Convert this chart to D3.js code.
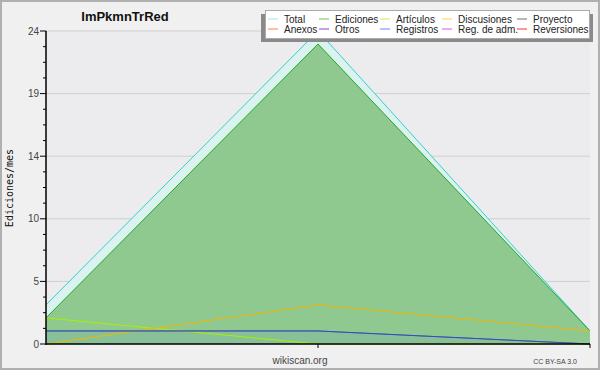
<!DOCTYPE html>
<html>
<head>
<meta charset="UTF-8">
<script src="https://d3js.org/d3.v7.min.js"></script>
<style>
  body { margin: 0; background: #f0f0f0; }
  text { font-family: "Liberation Sans", "DejaVu Sans", sans-serif; }
</style>
</head>
<body>
<svg id="chart"></svg>
<script>
// data (3 monthly points)
const months = [0, 1, 2];
const total = [3, 24, 1];
const ediciones = [2, 23, 1];
const articulos = [2, 0, 0];
const discusiones = [0, 3, 1];
const proyecto = [1, 1, 0];
const registros = [1, 1, 0];

const legendNames = ["Total", "Ediciones", "Artículos", "Discusiones", "Proyecto",
  "Anexos", "Otros", "Registros", "Reg. de adm.", "Reversiones"];
const legendColors = ["#a8e4e0", "#70c070", "#c8f050", "#ffd050", "#707070",
  "#ff8040", "#9040e0", "#7080ff", "#e050e0", "#ff3030"];

const W = 600, H = 370;
const mLeft = 46, mRight = 590, mTop = 31, mBottom = 344;

const svg = d3.select("#chart").attr("width", W).attr("height", H);

// background and frame
svg.append("rect").attr("x", 1).attr("y", 1).attr("width", W - 2).attr("height", H - 2)
  .attr("fill", "#f0f0f0").attr("stroke", "#b0b0b0").attr("stroke-width", 2);
svg.append("rect").attr("x", mLeft).attr("y", mTop).attr("width", mRight - mLeft).attr("height", mBottom - mTop)
  .attr("fill", "#ececee");

const x = d3.scaleLinear().domain([0, 2]).range([mLeft, mRight]);
const y = d3.scaleLinear().domain([0, 24]).range([mBottom, mTop]);

// grid lines at major ticks
const majors = d3.range(0, 5).map(i => 4.8 * (i + 1));
svg.append("g").selectAll("line").data(majors).join("line")
  .attr("x1", mLeft).attr("x2", mRight)
  .attr("y1", d => y(d)).attr("y2", d => y(d))
  .attr("stroke", "#cfcfcf").attr("stroke-width", 1);

// areas
const area = d3.area().x((d, i) => x(months[i])).y0(mBottom).y1(d => y(d));
const line = d3.line().x((d, i) => x(months[i])).y(d => y(d));

svg.append("path").attr("d", area(total)).attr("fill", "#dcf2ee");
svg.append("path").attr("d", area(ediciones)).attr("fill", "#90c990");
svg.append("path").attr("d", area(registros)).attr("fill", "#3060ff").attr("fill-opacity", 0.08);

// lines
const lines = [
  [total, "#30d0d0"],
  [ediciones, "#20a830"],
  [articulos, "#a8f000"],
  [discusiones, "#f0b800"],
  [proyecto, "#606060"],
  [registros, "#2040ff"]
];
lines.forEach(([vals, col], k) => {
  svg.append("path").attr("d", line(vals)).attr("fill", "none")
    .attr("stroke", col).attr("stroke-width", 1)
    .attr("stroke-opacity", k == 5 ? 0.7 : 1);
});

// y axis
const yTicks = d3.range(0, 21).map(i => i * 1.2);
svg.append("line").attr("x1", mLeft).attr("x2", mLeft).attr("y1", mTop).attr("y2", mBottom + 1)
  .attr("stroke", "#000").attr("stroke-width", 1.5);
svg.append("g").selectAll("line").data(yTicks).join("line")
  .attr("x1", (d, i) => i % 4 == 0 ? mLeft - 6 : mLeft - 3).attr("x2", mLeft)
  .attr("y1", d => y(d)).attr("y2", d => y(d))
  .attr("stroke", "#000").attr("stroke-width", 1);
svg.append("g").selectAll("text").data(yTicks.filter((d, i) => i % 4 == 0)).join("text")
  .attr("x", mLeft - 7).attr("y", d => y(d) + 3.5)
  .attr("text-anchor", "end").attr("font-size", 10).attr("fill", "#444")
  .text(d => Math.round(d));

// x axis
svg.append("line").attr("x1", mLeft).attr("x2", mRight).attr("y1", mBottom).attr("y2", mBottom)
  .attr("stroke", "#000").attr("stroke-width", 1.5);
svg.append("g").selectAll("line").data([1, 2]).join("line")
  .attr("x1", d => x(d)).attr("x2", d => x(d))
  .attr("y1", mBottom).attr("y2", mBottom + 4)
  .attr("stroke", "#000").attr("stroke-width", 1);

// texts
svg.append("text").attr("x", 125).attr("y", 21).attr("text-anchor", "middle")
  .attr("font-size", 13).attr("font-weight", "bold").attr("fill", "#111")
  .text("ImPkmnTrRed");
svg.append("text").attr("transform", "translate(13,188) rotate(-90)")
  .attr("text-anchor", "middle").attr("font-size", 10).attr("fill", "#111")
  .style("font-family", "'DejaVu Sans Mono', monospace")
  .text("Ediciones/mes");
svg.append("text").attr("x", 300).attr("y", 364).attr("text-anchor", "middle")
  .attr("font-size", 10).attr("fill", "#444").text("wikiscan.org");
svg.append("text").attr("x", 577).attr("y", 364).attr("text-anchor", "end")
  .attr("font-size", 7).attr("fill", "#444").text("CC BY-SA 3.0");

// legend
svg.append("rect").attr("x", 261).attr("y", 14).attr("width", 332).attr("height", 28).attr("fill", "#8a8a8a");
svg.append("rect").attr("x", 265.5).attr("y", 10.5).attr("width", 324).attr("height", 28)
  .attr("fill", "#fff").attr("stroke", "#aaa").attr("stroke-width", 1);
const colX = [268, 319, 380, 442, 517];
const lg = svg.append("g").selectAll("g").data(legendNames).join("g")
  .attr("transform", (d, i) => `translate(${colX[i % 5]},${i < 5 ? 19 : 29})`);
lg.append("line").attr("x1", 0).attr("x2", 10).attr("y1", 0).attr("y2", 0)
  .attr("stroke", (d, i) => legendColors[i]).attr("stroke-width", 1);
lg.append("text").attr("x", 16).attr("y", 4).attr("font-size", 10).attr("fill", "#222")
  .text(d => d);
</script>
</body>
</html>
